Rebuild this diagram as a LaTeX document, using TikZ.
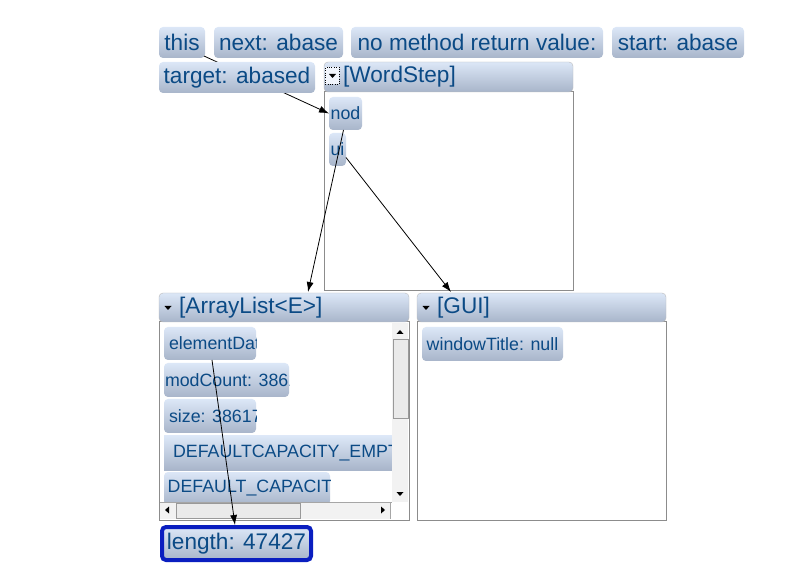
\documentclass[tikz,border=0pt]{standalone}
\usepackage{fontspec}
\setmainfont{Liberation Sans}
\usetikzlibrary{calc,arrows.meta}
\pgfdeclarelayer{bg}\pgfdeclarelayer{fg}
\pgfsetlayers{bg,main,fg}
\definecolor{objtop}{HTML}{DCE7F7}
\definecolor{objbot}{HTML}{A8B5CA}
\definecolor{objtxt}{HTML}{0B4A85}
\definecolor{panelline}{HTML}{8C8C8C}
\definecolor{sbtrack}{HTML}{F2F2F2}
\definecolor{sbthumb}{HTML}{EAEAEA}
\definecolor{selblue}{HTML}{0A1EC0}
\tikzset{
 objbox/.style={rounded corners=4pt, top color=objtop, bottom color=objbot, draw=none,
   text=objtxt, inner sep=0pt, outer sep=0pt, anchor=north west, font=\fontsize{22.6}{26}\selectfont},
 smallobj/.style={objbox, font=\fontsize{17.8}{21}\selectfont},
 cliptext/.style 2 args={path picture={\node[anchor=west, text=objtxt, inner sep=0pt,
   font=\fontsize{17.8}{21}\selectfont] at ([xshift=#1]path picture bounding box.west) {#2};}},
 hdr/.style={rounded corners=4pt, top color=objtop, bottom color=objbot, draw=panelline!60,
   anchor=north west, inner sep=0pt, outer sep=0pt},
 hdrtext/.style={anchor=west, text=objtxt, inner sep=0pt, font=\fontsize{22.6}{26}\selectfont},
 panelbody/.style={draw=panelline, fill=white, anchor=north west, inner sep=0pt, outer sep=0pt},
 conn/.style={draw=black, line width=0.8pt, -{Latex[length=10pt,width=7pt]}},
 tri/.style={fill=black},
 sbpart/.style={fill=sbtrack},
 sbthumbst/.style={fill=sbthumb, draw=gray!80},
}
\begin{document}
\begin{tikzpicture}[x=1pt,y=-1pt]
\useasboundingbox (0,0) rectangle (807,564);

\begin{pgfonlayer}{bg}
% WordStep panel
\node[panelbody, minimum width=249, minimum height=199] (wsbody) at (324,91) {};
\node[hdr, minimum width=249, minimum height=30] (wshdr) at (324,62) {};
\node[draw=black, dotted, fill=white!60!objtop, minimum width=14, minimum height=17, inner sep=0pt, anchor=north west] (wsdd) at (325,67) {};
\fill[tri] (329,74) -- (336,74) -- (332.5,78) -- cycle;
\node[hdrtext] (wstext) at (343,77) {[WordStep]};
\node[smallobj, minimum width=33, minimum height=33] (nod) at (329,97) {nod};
\node[smallobj, minimum width=17, minimum height=33] (ui) at (329,133) {ui};

% ArrayList panel
\node[panelbody, minimum width=250, minimum height=199] (albody) at (159,321) {};
\node[hdr, minimum width=250, minimum height=29] (alhdr) at (159,293) {};
\fill[tri] (164.5,306) -- (171.5,306) -- (168,310) -- cycle;
\node[hdrtext] (altext) at (179,307.5) {[ArrayList<E>]};
\node[smallobj, minimum width=92, minimum height=33, cliptext={5pt}{elementData}] (ed) at (164,327) {};
\node[smallobj, minimum width=125, minimum height=34, cliptext={1pt}{modCount: 3861}] (mc) at (164,363) {};
\node[smallobj, minimum width=92, minimum height=34, cliptext={5pt}{size: 38617}] (sz) at (164,399) {};
\node[smallobj, minimum width=228, minimum height=34, rounded corners=0pt, cliptext={8pt}{DEFAULTCAPACITY\_EMPT}] (dce) at (164,436) {};
\node[smallobj, minimum width=166, minimum height=33, cliptext={3pt}{DEFAULT\_CAPACIT}] (dc) at (164,472) {};
% scrollbars
\fill[sbpart] (392,323) rectangle (408,502);
\fill[tri] (396.5,334) -- (403.5,334) -- (400,330) -- cycle;
\draw[sbthumbst] (393,339) rectangle (408,418);
\fill[tri] (396.5,492) -- (403.5,492) -- (400,496) -- cycle;
\fill[sbpart] (160,502) rectangle (392,519);
\draw[gray!70] (160,502.5) -- (392,502.5);
\fill[tri] (169,506.5) -- (169,513.5) -- (165,510) -- cycle;
\draw[sbthumbst] (176,503) rectangle (300,518);
\fill[tri] (381,506.5) -- (381,513.5) -- (385,510) -- cycle;
\draw[gray!70] (390.5,502) -- (390.5,519);
\fill[white] (391,503) rectangle (408,519);

% GUI panel
\node[panelbody, minimum width=249, minimum height=199] (guibody) at (417,321) {};
\node[hdr, minimum width=249, minimum height=29] (guihdr) at (417,293) {};
\fill[tri] (422.5,306) -- (429.5,306) -- (426,310) -- cycle;
\node[hdrtext] (guitext) at (437,307.5) {[GUI]};
\node[smallobj, minimum width=141, minimum height=34] (wt) at (422,327) {windowTitle: null};

% length
\node[objbox, draw=selblue, line width=4pt, minimum width=149, minimum height=33] (len) at (162,527) {length: 47427};
\end{pgfonlayer}

% top row
\node[objbox, minimum width=46, minimum height=31] (this) at (159,27) {this};
\node[objbox, minimum width=129, minimum height=31] (next) at (214,27) {next: abase};
\node[objbox, minimum width=252, minimum height=31] (nomethod) at (351,27) {no method return value:};
\node[objbox, minimum width=132, minimum height=31] (start) at (612,27) {start: abase};

% connectors
\draw[conn] ([xshift=-1pt,yshift=2pt]this.south east) -- (nod.west);
\draw[conn] ([xshift=-2pt]nod.south) -- ([xshift=149pt,yshift=1pt]alhdr.north west);
\draw[conn] ([yshift=-8pt]ui.east) -- ([xshift=34pt,yshift=1pt]guihdr.north west);
\draw[conn] ([xshift=2pt]ed.south) -- ([xshift=73pt,yshift=2pt]len.north west);

\begin{pgfonlayer}{fg}
\node[objbox, minimum width=156, minimum height=31] (target) at (159,62) {target: abased};
\end{pgfonlayer}
\end{tikzpicture}
\end{document}
